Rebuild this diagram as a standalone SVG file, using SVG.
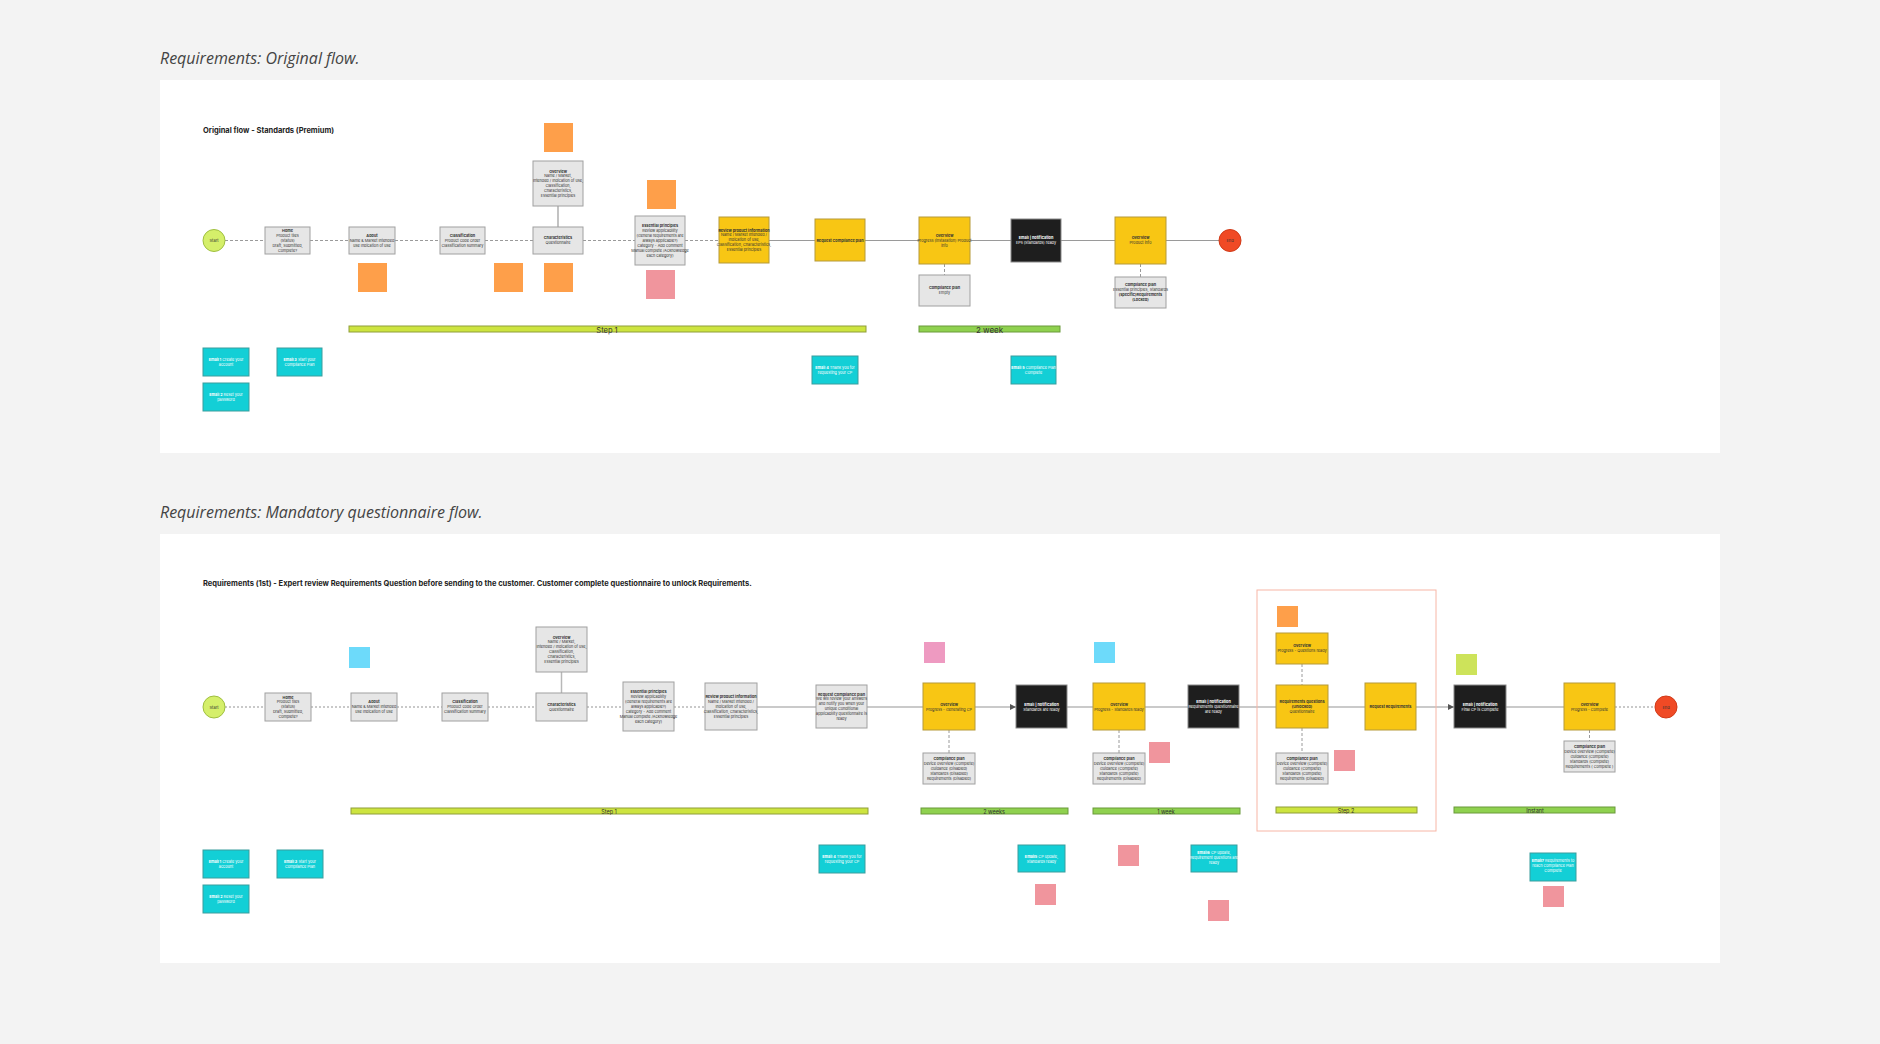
<svg xmlns="http://www.w3.org/2000/svg" width="1880" height="1044" viewBox="0 0 1880 1044">
<defs>
<style>
.bg{fill:#f3f3f3}
.panel{fill:#ffffff}
.h{font-family:"Open Sans","Noto Sans",sans-serif;font-style:italic;font-size:16px;fill:#444}
.sub{font-family:Inter,"Noto Sans",sans-serif;font-weight:700;font-size:7.5px;fill:#222}
.g{fill:#e6e6e6;stroke:#a0a0a0;stroke-width:1}
.y{fill:#f8c614;stroke:#b59a3a;stroke-width:1}
.k{fill:#1e1e1e;stroke:#8a8a8a;stroke-width:1}
.c{fill:#13cfd6;stroke:#3a9e9e;stroke-width:1}
.so{fill:#fe9f4a}
.sp{fill:#f0959d}
.sm{fill:#ee9ac1}
.sb{fill:#6ddafa}
.sl{fill:#cde35a}
.lime{fill:#cde43f;stroke:#8f9e3a;stroke-width:1}
.grn{fill:#8fd14f;stroke:#6a9a3a;stroke-width:1}
.t{font-family:Inter,"Noto Sans",sans-serif;font-size:3.8px;text-anchor:middle;fill:#333}
.tw{fill:#ffffff}
.b{font-weight:700}
.bl{font-family:Inter,"Noto Sans",sans-serif;text-anchor:middle;fill:#333}
.start{fill:#d5ef6a;stroke:#9fbf40;stroke-width:1}
.end{fill:#f04a25;stroke:#d03a18;stroke-width:1}
.cl{font-family:Inter,"Noto Sans",sans-serif;font-size:4px;text-anchor:middle;fill:#333}
.ds{fill:none;stroke:#9a9a9a;stroke-width:1;stroke-dasharray:3 2}
.sl1{fill:none;stroke:#9a9a9a;stroke-width:1.2}
.ds2{fill:none;stroke:#b8b8b8;stroke-width:1.5;stroke-dasharray:2 2}
.sl2{fill:none;stroke:#b8b8b8;stroke-width:1.5}
.frame{fill:none;stroke:#f7b6a6;stroke-width:1}
</style>
<marker id="arr" viewBox="0 0 6 6" refX="6" refY="3" markerWidth="4" markerHeight="4" orient="auto"><path d="M0,0 L6,3 L0,6 z" fill="#555"/></marker>
</defs>
<rect class="bg" x="0" y="0" width="1880" height="1044"/>
<text class="h" x="160" y="64">Requirements: Original flow.</text>
<rect class="panel" x="160" y="80" width="1560" height="373"/>
<text class="h" x="160" y="518">Requirements: Mandatory questionnaire flow.</text>
<rect class="panel" x="160" y="534" width="1560" height="429"/>
<text class="sub" x="203" y="133">Original flow - Standards (Premium)</text>
<text class="sub" x="203" y="586">Requirements (1st) - Expert review Requirements Question before sending to the customer. Customer complete questionnaire to unlock Requirements.</text>

<g id="connectors">
<line class="ds" x1="225" y1="240.5" x2="265" y2="240.5"/>
<line class="ds" x1="310" y1="240.5" x2="349" y2="240.5"/>
<line class="ds" x1="395" y1="240.5" x2="440" y2="240.5"/>
<line class="ds" x1="485" y1="240.5" x2="533" y2="240.5"/>
<line class="ds" x1="583" y1="240.5" x2="635" y2="240.5"/>
<line class="ds" x1="685" y1="240.5" x2="719" y2="240.5"/>
<line class="sl1" x1="769" y1="240.5" x2="815" y2="240.5"/>
<line class="sl1" x1="865" y1="240.5" x2="919" y2="240.5"/>
<line class="sl1" x1="970" y1="240.5" x2="1011" y2="240.5"/>
<line class="sl1" x1="1061" y1="240.5" x2="1115" y2="240.5"/>
<line class="sl1" x1="1166" y1="240.5" x2="1219" y2="240.5"/>
<line class="sl1" x1="558" y1="206" x2="558" y2="227"/>
<line class="ds" x1="944.5" y1="264" x2="944.5" y2="275"/>
<line class="ds" x1="1140.5" y1="264" x2="1140.5" y2="277"/>

<line class="ds2" x1="225" y1="707" x2="265" y2="707"/>
<line class="ds2" x1="311" y1="707" x2="351" y2="707"/>
<line class="ds2" x1="397" y1="707" x2="442" y2="707"/>
<line class="ds2" x1="488" y1="707" x2="536" y2="707"/>
<line class="ds2" x1="587" y1="707" x2="623" y2="707"/>
<line class="ds2" x1="674" y1="707" x2="705" y2="707"/>
<line class="sl2" x1="757" y1="707" x2="816" y2="707"/>
<line class="sl2" x1="867" y1="707" x2="923" y2="707"/>
<line class="sl2" x1="975" y1="707" x2="1016" y2="707" marker-end="url(#arr)"/>
<line class="sl2" x1="1067" y1="707" x2="1093" y2="707"/>
<line class="sl2" x1="1145" y1="707" x2="1188" y2="707"/>
<line class="sl2" x1="1239" y1="707" x2="1276" y2="707"/>
<line class="sl2" x1="1328" y1="707" x2="1365" y2="707"/>
<line class="sl2" x1="1416" y1="707" x2="1454" y2="707" marker-end="url(#arr)"/>
<line class="sl2" x1="1506" y1="707" x2="1564" y2="707"/>
<line class="ds2" x1="1615" y1="707" x2="1655" y2="707"/>
<line class="sl2" x1="561.5" y1="672" x2="561.5" y2="693"/>
<line class="ds" x1="949" y1="730" x2="949" y2="753"/>
<line class="ds" x1="1119" y1="730" x2="1119" y2="753"/>
<line class="ds" x1="1302" y1="664" x2="1302" y2="685"/>
<line class="ds" x1="1302" y1="728" x2="1302" y2="753"/>
<line class="ds" x1="1589.5" y1="730" x2="1589.5" y2="741"/>
</g>

<!-- Top panel nodes -->
<g id="t-start"><circle class="start" cx="214" cy="240.5" r="11"/><text class="cl" x="214" y="242">Start</text></g>
<g id="t-home"><rect class="g" x="265" y="227" width="45" height="27"/><text class="t"><tspan class="b" x="287.5" y="232">Home</tspan><tspan x="287.5" y="236.9">Product tiles</tspan><tspan x="287.5" y="241.8">(Status)</tspan><tspan x="287.5" y="246.7">Draft, Submitted,</tspan><tspan x="287.5" y="251.6">Complete?</tspan></text></g>
<g id="t-about"><rect class="g" x="349" y="227" width="46" height="27"/><text class="t"><tspan class="b" x="372" y="236.9">About</tspan><tspan x="372" y="241.8">Name &amp; Market Intended</tspan><tspan x="372" y="246.7">use Indication of use</tspan></text></g>
<g id="t-class"><rect class="g" x="440" y="227" width="45" height="27"/><text class="t"><tspan class="b" x="462.5" y="236.9">Classification</tspan><tspan x="462.5" y="241.8">Product code Order</tspan><tspan x="462.5" y="246.7">Classification summary</tspan></text></g>
<g id="t-char"><rect class="g" x="533" y="227" width="50" height="27"/><text class="t"><tspan class="b" x="558" y="239.35">Characteristics</tspan><tspan x="558" y="244.25">Questionnaire</tspan></text></g>
<g id="t-ov0"><rect class="g" x="533" y="161" width="50" height="45"/><text class="t"><tspan class="b" x="558" y="172.55">Overview</tspan><tspan x="558" y="177.45">Name / Market,</tspan><tspan x="558" y="182.35">Intended / Indication of use,</tspan><tspan x="558" y="187.25">Classification,</tspan><tspan x="558" y="192.15">Characteristics,</tspan><tspan x="558" y="197.05">Essential principles</tspan></text></g>
<g id="t-ess"><rect class="g" x="635" y="216" width="50" height="49"/><text class="t"><tspan class="b" x="660" y="227.1">Essential principles</tspan><tspan x="660" y="232">Review applicability</tspan><tspan x="660" y="236.9">(General requirements are</tspan><tspan x="660" y="241.8">always applicable?)</tspan><tspan x="660" y="246.7">Category - Add comment</tspan><tspan x="660" y="251.6">Manual complete /Acknowledge</tspan><tspan x="660" y="256.5">each category)</tspan></text></g>
<g id="t-review"><rect class="y" x="719" y="217" width="50" height="46"/><text class="t"><tspan class="b" x="744" y="231.5">Review product information</tspan><tspan x="744" y="236.4">Name / Market Intended /</tspan><tspan x="744" y="241.3">Indication of use,</tspan><tspan x="744" y="246.2">Classification, Characteristics,</tspan><tspan x="744" y="251.1">Essential principles</tspan></text></g>
<g id="t-request"><rect class="y" x="815" y="219" width="50" height="42"/><text class="t"><tspan class="b" x="840" y="241.8">Request Compliance plan</tspan></text></g>
<g id="t-ov1"><rect class="y" x="919" y="217" width="51" height="47"/><text class="t"><tspan class="b" x="944.5" y="236.9">Overview</tspan><tspan x="944.5" y="241.8">Progress (installation) Product</tspan><tspan x="944.5" y="246.7">info</tspan></text></g>
<g id="t-cp1"><rect class="g" x="919" y="275" width="51" height="31"/><text class="t"><tspan class="b" x="944.5" y="289.35">Compliance plan</tspan><tspan x="944.5" y="294.25">Empty</tspan></text></g>
<g id="t-mail"><rect class="k" x="1011" y="219" width="50" height="43"/><text class="t tw"><tspan class="b" x="1036" y="239.35">Email | notification</tspan><tspan x="1036" y="244.25">EPs (Standards) ready</tspan></text></g>
<g id="t-ov2"><rect class="y" x="1115" y="217" width="51" height="47"/><text class="t"><tspan class="b" x="1140.5" y="239.35">Overview</tspan><tspan x="1140.5" y="244.25">Product info</tspan></text></g>
<g id="t-cp2"><rect class="g" x="1115" y="277" width="51" height="31"/><text class="t"><tspan class="b" x="1140.5" y="286.45">Compliance plan</tspan><tspan x="1140.5" y="291.35">Essential principles, Standards</tspan><tspan class="b" x="1140.5" y="296.25">(specific)Requirements</tspan><tspan class="b" x="1140.5" y="301.15">(Locked)</tspan></text></g>
<g id="t-end"><circle class="end" cx="1230" cy="240.5" r="11"/><text class="cl" x="1230" y="242">End</text></g>

<g id="t-stickies">
<rect class="so" x="544" y="123" width="29" height="29"/>
<rect class="so" x="358" y="263" width="29" height="29"/>
<rect class="so" x="494" y="263" width="29" height="29"/>
<rect class="so" x="544" y="263" width="29" height="29"/>
<rect class="so" x="647" y="180" width="29" height="29"/>
<rect class="sp" x="646" y="270" width="29" height="29"/>
</g>

<g id="t-bar1"><rect class="lime" x="349" y="326" width="517" height="6"/><text class="bl" x="607" y="332.5" font-size="7.5">Step 1</text></g>
<g id="t-bar2"><rect class="grn" x="919" y="326" width="141" height="6"/><text class="bl" x="989.5" y="333" font-size="8">2 week</text></g>

<g id="t-e1"><rect class="c" x="203" y="348" width="46" height="28"/><text class="t tw"><tspan x="226" y="361.35"><tspan class="b">Email 1</tspan> Create your</tspan><tspan x="226" y="366.25">account</tspan></text></g>
<g id="t-e3"><rect class="c" x="277" y="348" width="45" height="28"/><text class="t tw"><tspan x="299.5" y="361.35"><tspan class="b">Email 3</tspan> Start your</tspan><tspan x="299.5" y="366.25">Compliance Plan</tspan></text></g>
<g id="t-e2"><rect class="c" x="203" y="383" width="46" height="28"/><text class="t tw"><tspan x="226" y="396.35"><tspan class="b">Email 2</tspan> Reset your</tspan><tspan x="226" y="401.25">password</tspan></text></g>
<g id="t-e4"><rect class="c" x="812" y="356" width="46" height="28"/><text class="t tw"><tspan x="835" y="369.35"><tspan class="b">Email 4</tspan> Thank you for</tspan><tspan x="835" y="374.25">requesting your CP</tspan></text></g>
<g id="t-e5"><rect class="c" x="1011" y="356" width="45" height="28"/><text class="t tw"><tspan x="1033.5" y="369.35"><tspan class="b">Email 5</tspan> Compliance Plan</tspan><tspan x="1033.5" y="374.25">Complete</tspan></text></g>

<!-- Bottom panel nodes -->
<g id="b-start"><circle class="start" cx="214" cy="707" r="11"/><text class="cl" x="214" y="708.5">Start</text></g>
<g id="b-home"><rect class="g" x="265" y="693" width="46" height="28"/><text class="t"><tspan class="b" x="288" y="698.5">Home</tspan><tspan x="288" y="703.4">Product tiles</tspan><tspan x="288" y="708.3">(Status)</tspan><tspan x="288" y="713.2">Draft, Submitted,</tspan><tspan x="288" y="718.1">Complete?</tspan></text></g>
<g id="b-about"><rect class="g" x="351" y="693" width="46" height="28"/><text class="t"><tspan class="b" x="374" y="703.4">About</tspan><tspan x="374" y="708.3">Name &amp; Market Intended</tspan><tspan x="374" y="713.2">use Indication of use</tspan></text></g>
<g id="b-class"><rect class="g" x="442" y="693" width="46" height="28"/><text class="t"><tspan class="b" x="465" y="703.4">Classification</tspan><tspan x="465" y="708.3">Product code Order</tspan><tspan x="465" y="713.2">Classification summary</tspan></text></g>
<g id="b-char"><rect class="g" x="536" y="693" width="51" height="28"/><text class="t"><tspan class="b" x="561.5" y="705.85">Characteristics</tspan><tspan x="561.5" y="710.75">Questionnaire</tspan></text></g>
<g id="b-ov0"><rect class="g" x="536" y="627" width="51" height="45"/><text class="t"><tspan class="b" x="561.5" y="638.55">Overview</tspan><tspan x="561.5" y="643.45">Name / Market,</tspan><tspan x="561.5" y="648.35">Intended / Indication of use,</tspan><tspan x="561.5" y="653.25">Classification,</tspan><tspan x="561.5" y="658.15">Characteristics,</tspan><tspan x="561.5" y="663.05">Essential principles</tspan></text></g>
<g id="b-ess"><rect class="g" x="623" y="682" width="51" height="49"/><text class="t"><tspan class="b" x="648.5" y="693.1">Essential principles</tspan><tspan x="648.5" y="698">Review applicability</tspan><tspan x="648.5" y="702.9">(General requirements are</tspan><tspan x="648.5" y="707.8">always applicable?)</tspan><tspan x="648.5" y="712.7">Category - Add comment</tspan><tspan x="648.5" y="717.6">Manual complete /Acknowledge</tspan><tspan x="648.5" y="722.5">each category)</tspan></text></g>
<g id="b-review"><rect class="g" x="705" y="683" width="52" height="47"/><text class="t"><tspan class="b" x="731" y="698">Review product information</tspan><tspan x="731" y="702.9">Name / Market Intended /</tspan><tspan x="731" y="707.8">Indication of use,</tspan><tspan x="731" y="712.7">Classification, Characteristics,</tspan><tspan x="731" y="717.6">Essential principles</tspan></text></g>
<g id="b-request"><rect class="g" x="816" y="685" width="51" height="43"/><text class="t"><tspan class="b" x="841.5" y="695.55">Request Compliance plan</tspan><tspan x="841.5" y="700.45">We will review your answers</tspan><tspan x="841.5" y="705.35">and notify you when your</tspan><tspan x="841.5" y="710.25">unique Conditional</tspan><tspan x="841.5" y="715.15">applicability questionnaire is</tspan><tspan x="841.5" y="720.05">ready</tspan></text></g>
<g id="b-ov1"><rect class="y" x="923" y="683" width="52" height="47"/><text class="t"><tspan class="b" x="949" y="705.85">Overview</tspan><tspan x="949" y="710.75">Progress - Generating CP</tspan></text></g>
<g id="b-cp1"><rect class="g" x="923" y="753" width="52" height="31"/><text class="t"><tspan class="b" x="949" y="760">Compliance plan</tspan><tspan x="949" y="764.9">Device overview (Complete)</tspan><tspan x="949" y="769.8">Guidance (Disabled)</tspan><tspan x="949" y="774.7">Standards (Disabled)</tspan><tspan x="949" y="779.6">Requirements (Disabled)</tspan></text></g>
<g id="b-mail1"><rect class="k" x="1016" y="685" width="51" height="43"/><text class="t tw"><tspan class="b" x="1041.5" y="705.85">Email | notification</tspan><tspan x="1041.5" y="710.75">Standards are ready</tspan></text></g>
<g id="b-ov2"><rect class="y" x="1093" y="683" width="52" height="47"/><text class="t"><tspan class="b" x="1119" y="705.85">Overview</tspan><tspan x="1119" y="710.75">Progress - Standards ready</tspan></text></g>
<g id="b-cp2"><rect class="g" x="1093" y="753" width="52" height="31"/><text class="t"><tspan class="b" x="1119" y="760">Compliance plan</tspan><tspan x="1119" y="764.9">Device overview (Complete)</tspan><tspan x="1119" y="769.8">Guidance (Complete)</tspan><tspan x="1119" y="774.7">Standards (Complete)</tspan><tspan x="1119" y="779.6">Requirements (Disabled)</tspan></text></g>
<g id="b-mail2"><rect class="k" x="1188" y="685" width="51" height="43"/><text class="t tw"><tspan class="b" x="1213.5" y="702.9">Email | notification</tspan><tspan x="1213.5" y="707.8">Requirements questionnaire</tspan><tspan x="1213.5" y="712.7">are ready</tspan></text></g>
<g id="b-frame"><rect class="frame" x="1257" y="590" width="179" height="241"/></g>
<g id="b-ov3"><rect class="y" x="1276" y="633" width="52" height="31"/><text class="t"><tspan class="b" x="1302" y="647.35">Overview</tspan><tspan x="1302" y="652.25">Progress - Questions ready</tspan></text></g>
<g id="b-reqq"><rect class="y" x="1276" y="685" width="52" height="43"/><text class="t"><tspan class="b" x="1302" y="702.9">Requirements questions</tspan><tspan class="b" x="1302" y="707.8">(Unlocked)</tspan><tspan x="1302" y="712.7">Questionnaire</tspan></text></g>
<g id="b-cp3"><rect class="g" x="1276" y="753" width="52" height="31"/><text class="t"><tspan class="b" x="1302" y="760">Compliance plan</tspan><tspan x="1302" y="764.9">Device overview (Complete)</tspan><tspan x="1302" y="769.8">Guidance (Complete)</tspan><tspan x="1302" y="774.7">Standards (Complete)</tspan><tspan x="1302" y="779.6">Requirements (Disabled)</tspan></text></g>
<g id="b-reqr"><rect class="y" x="1365" y="683" width="51" height="47"/><text class="t"><tspan class="b" x="1390.5" y="707.8">Request Requirements</tspan></text></g>
<g id="b-mail3"><rect class="k" x="1454" y="685" width="52" height="43"/><text class="t tw"><tspan class="b" x="1480" y="705.85">Email | notification</tspan><tspan x="1480" y="710.75">Final CP is Complete</tspan></text></g>
<g id="b-ov4"><rect class="y" x="1564" y="683" width="51" height="47"/><text class="t"><tspan class="b" x="1589.5" y="705.85">Overview</tspan><tspan x="1589.5" y="710.75">Progress - Complete</tspan></text></g>
<g id="b-cp4"><rect class="g" x="1564" y="741" width="51" height="31"/><text class="t"><tspan class="b" x="1589.5" y="748">Compliance plan</tspan><tspan x="1589.5" y="752.9">Device overview (Complete)</tspan><tspan x="1589.5" y="757.8">Guidance (Complete)</tspan><tspan x="1589.5" y="762.7">Standards (Complete)</tspan><tspan x="1589.5" y="767.6">Requirements ( Complete )</tspan></text></g>
<g id="b-end"><circle class="end" cx="1666" cy="707" r="11"/><text class="cl" x="1666" y="708.5">End</text></g>

<g id="b-stickies">
<rect class="sb" x="349" y="647" width="21" height="21"/>
<rect class="sm" x="924" y="642" width="21" height="21"/>
<rect class="sb" x="1094" y="642" width="21" height="21"/>
<rect class="sp" x="1149" y="742" width="21" height="21"/>
<rect class="so" x="1277" y="606" width="21" height="21"/>
<rect class="sp" x="1334" y="750" width="21" height="21"/>
<rect class="sl" x="1456" y="654" width="21" height="21"/>
<rect class="sp" x="1035" y="884" width="21" height="21"/>
<rect class="sp" x="1118" y="845" width="21" height="21"/>
<rect class="sp" x="1208" y="900" width="21" height="21"/>
<rect class="sp" x="1543" y="886" width="21" height="21"/>
</g>

<g id="b-bar1"><rect class="lime" x="351" y="808" width="517" height="6"/><text class="bl" x="609" y="813.5" font-size="5.5">Step 1</text></g>
<g id="b-bar2"><rect class="grn" x="921" y="808" width="147" height="6"/><text class="bl" x="994" y="813.5" font-size="5.5">2 weeks</text></g>
<g id="b-bar3"><rect class="grn" x="1093" y="808" width="147" height="6"/><text class="bl" x="1166" y="813.5" font-size="5.5">1 week</text></g>
<g id="b-bar4"><rect class="lime" x="1276" y="807" width="141" height="6"/><text class="bl" x="1346" y="812.5" font-size="5.5">Step 2</text></g>
<g id="b-bar5"><rect class="grn" x="1454" y="807" width="161" height="6"/><text class="bl" x="1535" y="812.5" font-size="5.5">Instant</text></g>

<g id="b-e1"><rect class="c" x="203" y="850" width="46" height="28"/><text class="t tw"><tspan x="226" y="863.35"><tspan class="b">Email 1</tspan> Create your</tspan><tspan x="226" y="868.25">account</tspan></text></g>
<g id="b-e3"><rect class="c" x="277" y="850" width="46" height="28"/><text class="t tw"><tspan x="300" y="863.35"><tspan class="b">Email 3</tspan> Start your</tspan><tspan x="300" y="868.25">Compliance Plan</tspan></text></g>
<g id="b-e2"><rect class="c" x="203" y="885" width="46" height="28"/><text class="t tw"><tspan x="226" y="898.35"><tspan class="b">Email 2</tspan> Reset your</tspan><tspan x="226" y="903.25">password</tspan></text></g>
<g id="b-e4"><rect class="c" x="819" y="845" width="46" height="28"/><text class="t tw"><tspan x="842" y="858.35"><tspan class="b">Email 4</tspan> Thank you for</tspan><tspan x="842" y="863.25">requesting your CP</tspan></text></g>
<g id="b-e5"><rect class="c" x="1018" y="845" width="47" height="27"/><text class="t tw"><tspan x="1041.5" y="857.85"><tspan class="b">Email5</tspan> CP update,</tspan><tspan x="1041.5" y="862.75">Standards ready</tspan></text></g>
<g id="b-e6"><rect class="c" x="1191" y="845" width="46" height="27"/><text class="t tw"><tspan x="1214" y="854.4"><tspan class="b">Email6</tspan> CP update,</tspan><tspan x="1214" y="859.3">Requirement questions are</tspan><tspan x="1214" y="864.2">ready</tspan></text></g>
<g id="b-e7"><rect class="c" x="1530" y="853" width="46" height="28"/><text class="t tw"><tspan x="1553" y="862.4"><tspan class="b">Email7</tspan> Requirements to</tspan><tspan x="1553" y="867.3">reach Compliance Plan</tspan><tspan x="1553" y="872.2">Complete</tspan></text></g>
</svg>
